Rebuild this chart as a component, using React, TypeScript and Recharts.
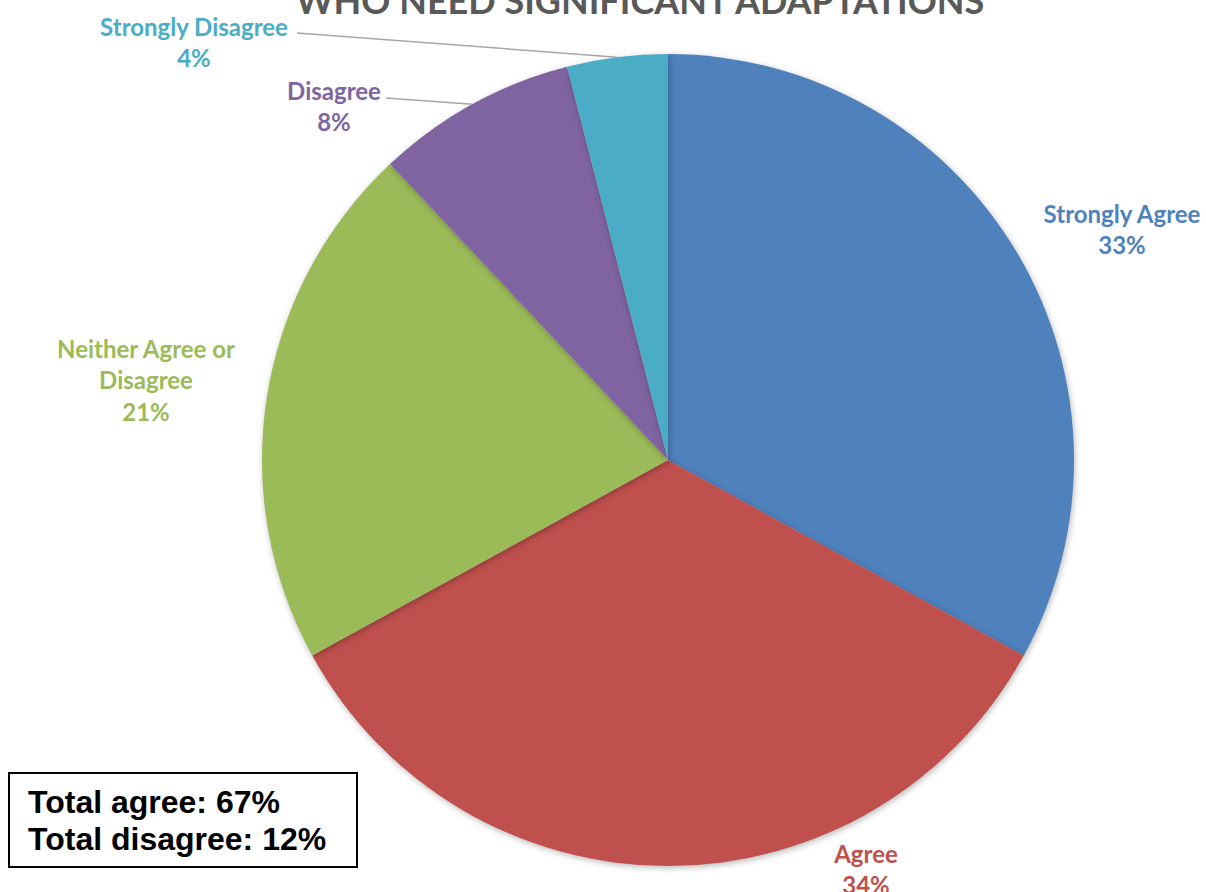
import React from "react";
import { PieChart, Pie, Cell } from "recharts";

// Survey responses (percent of respondents)
const categories = ["Strongly Agree", "Agree", "Neither Agree or Disagree", "Disagree", "Strongly Disagree"];
const percents = [33, 34, 21, 8, 4];
const colors = ["#4F81BD", "#C0504D", "#9BBB59", "#8064A2", "#4BACC6"];
const titleText = "WHO NEED SIGNIFICANT ADAPTATIONS";
const summaryLines = ["Total agree: 67%", "Total disagree: 12%"];

const data = categories.map((name, i) => ({ name, value: percents[i] }));

// Label placement relative to the pie centre (dx, dy of first line), plus optional leader line start
const labelLayout = [
  { dx: 454, dy: -247, lines: ["Strongly Agree"], leader: null },
  { dx: 198, dy: 393, lines: ["Agree"], leader: null },
  { dx: -522, dy: -112, lines: ["Neither Agree or", "Disagree"], leader: null },
  { dx: -334, dy: -370, lines: ["Disagree"], leader: { x: -282, y: -362 } },
  { dx: -474, dy: -434, lines: ["Strongly Disagree"], leader: { x: -371, y: -427 } },
];

const W = 1206;
const H = 892;
const CX = 668;
const CY = 460;
const R = 406;
const LINE_H = 31.5;
const RAD = Math.PI / 180;

const renderLabel = (props: any) => {
  const { cx, cy, midAngle, outerRadius, index, value } = props;
  const layout = labelLayout[index];
  const color = colors[index];
  const x = cx + layout.dx;
  const y = cy + layout.dy;
  const lines = [...layout.lines, `${value}%`];
  let leader = null;
  if (layout.leader) {
    const ex = cx + outerRadius * Math.cos(-midAngle * RAD);
    const ey = cy + outerRadius * Math.sin(-midAngle * RAD);
    leader = (
      <polyline
        points={`${cx + layout.leader.x},${cy + layout.leader.y} ${ex},${ey}`}
        fill="none"
        stroke="#A6A6A6"
        strokeWidth={1.5}
      />
    );
  }
  return (
    <g key={`lbl-${index}`}>
      {leader}
      <text
        x={x}
        y={y}
        textAnchor="middle"
        fill={color}
        fontFamily="Lato, 'Open Sans', sans-serif"
        fontWeight={700}
        fontSize={24}
      >
        {lines.map((ln, i) => (
          <tspan key={i} x={x} y={y + i * LINE_H} dominantBaseline="central">
            {ln}
          </tspan>
        ))}
      </text>
    </g>
  );
};

export default function App() {
  return (
    <div style={{ position: "absolute", left: 0, top: 0, width: W, height: H, background: "#fff" }}>
      <style>{`.recharts-pie-sector { filter: drop-shadow(1px 2px 3px rgba(0,0,0,0.28)); }`}</style>
      <PieChart width={W} height={H} margin={{ top: 0, right: 0, bottom: 0, left: 0 }}>
        <text
          x={640}
          y={14}
          textAnchor="middle"
          fill="#595959"
          fontFamily="Lato, 'Open Sans', sans-serif"
          fontWeight={700}
          fontSize={36}
        >
          {titleText}
        </text>
        <Pie
          data={data}
          dataKey="value"
          nameKey="name"
          cx={CX}
          cy={CY}
          outerRadius={R}
          startAngle={90}
          endAngle={-270}
          stroke="none"
          label={renderLabel}
          labelLine={false}
          isAnimationActive={false}
        >
          {data.map((d, i) => (
            <Cell key={d.name} fill={colors[i]} />
          ))}
        </Pie>
      </PieChart>
      <div
        style={{
          position: "absolute",
          left: 8,
          top: 772,
          width: 350,
          height: 96,
          border: "2px solid #000",
          background: "#fff",
          fontFamily: "'Liberation Sans', Arial, sans-serif",
          fontWeight: 700,
          fontSize: 32,
          lineHeight: "37px",
          color: "#000",
          paddingLeft: 18,
          paddingTop: 10,
          boxSizing: "border-box",
        }}
      >
        {summaryLines.map((l) => (
          <div key={l} style={{ whiteSpace: "nowrap" }}>{l}</div>
        ))}
      </div>
    </div>
  );
}
